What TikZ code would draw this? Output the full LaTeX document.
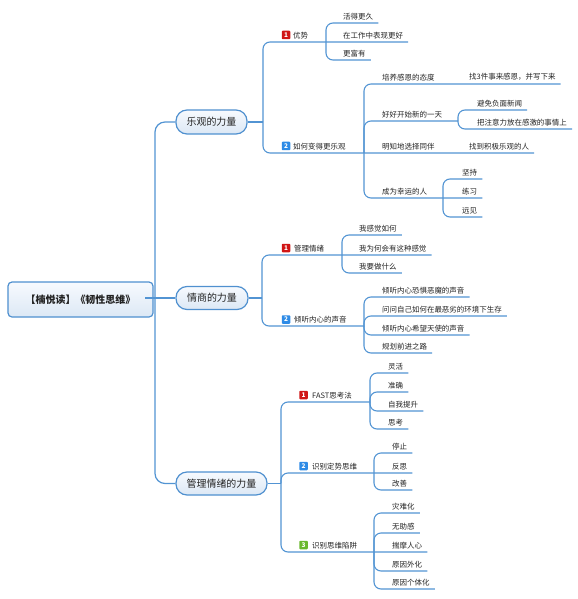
\documentclass[tikz,border=0pt]{standalone}
\usepackage{fontspec}
\setmainfont{Noto Sans CJK SC}
\definecolor{lnc}{HTML}{5294D3}
\definecolor{bdc}{HTML}{4F90CF}
\definecolor{ftop}{HTML}{F7FAFE}
\definecolor{fbot}{HTML}{DCE8F5}
\definecolor{bred}{HTML}{D01515}
\definecolor{bblue}{HTML}{2E8BE6}
\definecolor{bgreen}{HTML}{6AB82E}
\definecolor{txt}{HTML}{222222}
\tikzset{
 conn/.style={draw=lnc, line width=1.1bp, rounded corners=7bp},
 mainconn/.style={draw=lnc, line width=1.2bp, rounded corners=10bp},
 mainbox/.style={rectangle, rounded corners=11bp, draw=bdc, line width=1.2bp, top color=ftop, bottom color=fbot, font=\fontsize{10}{12}\selectfont, inner sep=0pt, text=txt},
 rootbox/.style={rectangle, rounded corners=4bp, draw=bdc, line width=1.2bp, top color=ftop, bottom color=fbot, font=\bfseries\fontsize{10}{12}\selectfont, minimum width=145bp, minimum height=35bp, inner sep=0pt, text=txt},
 leaf/.style={anchor=south west, inner xsep=0pt, inner ysep=3bp, font=\fontsize{7.5}{9}\selectfont, text=txt},
 badge/.style={rectangle, rounded corners=0.8bp, minimum size=8.5bp, inner sep=0pt, text=white, font=\bfseries\fontsize{6.5}{7}\selectfont},
}
\begin{document}
\begin{tikzpicture}[x=1bp,y=-1bp]
\useasboundingbox (0,0) rectangle (578,599);
% root and main topics
\node[rootbox] (root) at (80.5,299.5) {【楠悦读】《韧性思维》};
\coordinate (T) at (155,298);
\node[mainbox, minimum width=71bp, minimum height=24bp] (A) at (211.5,122) {乐观的力量};
\node[mainbox, minimum width=72bp, minimum height=23bp] (B) at (212,298) {情商的力量};
\node[mainbox, minimum width=91bp, minimum height=23bp] (C) at (221.5,483.5) {管理情绪的力量};
\draw[mainconn] (root.east |- T) -- (T) -- (B.west);
\draw[mainconn] (T) |- (A.west);
\draw[mainconn] (T) |- (C.west);
\coordinate (JA) at (263,122);
\coordinate (JB) at (262,298);
\coordinate (JC) at (281,483.5);
\draw[mainconn] (A.east) -- (JA);
\draw[mainconn] (B.east) -- (JB);
\draw[mainconn] (C.east) -- (JC);

% ---- A: 乐观的力量
\node[badge, fill=bred] (A1b) at (286,35) {1};
\node[leaf] (A1) at (293,42) {优势};
\coordinate (A1j) at (326,42);
\node[leaf] (A11) at (343,23) {活得更久};
\node[leaf] (A12) at (343,42) {在工作中表现更好};
\node[leaf] (A13) at (343,60) {更富有};
\draw[conn] (JA) |- (A1.south west) -- (A1j) -- ([xshift=5bp]A12.south east);
\draw[conn] (A1j) |- (A11.south west) -- ([xshift=5bp]A11.south east);
\draw[conn] (A1j) |- (A13.south west) -- ([xshift=5bp]A13.south east);

\node[badge, fill=bblue] (A2b) at (286,146) {2};
\node[leaf] (A2) at (293,153) {如何变得更乐观};
\coordinate (A2j) at (364,153);

\node[leaf] (A21) at (382,84) {培养感恩的态度};
\coordinate (A21j) at (452,84);
\node[leaf] (A22) at (382,121) {好好开始新的一天};
\coordinate (A22j) at (458,121);
\node[leaf] (A23) at (382,153) {明知地选择同伴};
\coordinate (A23j) at (452,153);
\node[leaf] (A24) at (382,198) {成为幸运的人};
\coordinate (A24j) at (443,198);
\node[leaf] (A211) at (469,84) {找3件事来感恩，并写下来};
\node[leaf] (A221) at (477,110) {避免负面新闻};
\node[leaf] (A222) at (477,129) {把注意力放在感激的事情上};
\node[leaf] (A231) at (469,153) {找到积极乐观的人};
\node[leaf] (A241) at (462,179) {坚持};
\node[leaf] (A242) at (462,198) {练习};
\node[leaf] (A243) at (462,217) {远见};

\draw[conn] (JA) |- (A2.south west) -- (A2j) -- (A23.south west) -- (A23j) -- ([xshift=5bp]A231.south east);
\draw[conn] (A2j) |- (A21.south west) -- (A21j) -- ([xshift=5bp]A211.south east);
\draw[conn] (A2j) |- (A22.south west) -- (A22j);
\draw[conn] (A2j) |- (A24.south west) -- (A24j) -- ([xshift=5bp]A242.south east);
\draw[conn] (A22j) |- (A221.south west) -- ([xshift=5bp]A221.south east);
\draw[conn] (A22j) |- (A222.south west) -- ([xshift=5bp]A222.south east);
\draw[conn] (A24j) |- (A241.south west) -- ([xshift=5bp]A241.south east);
\draw[conn] (A24j) |- (A243.south west) -- ([xshift=5bp]A243.south east);

% ---- B: 情商的力量
\node[badge, fill=bred] (B1b) at (286,248) {1};
\node[leaf] (B1) at (294,255) {管理情绪};
\coordinate (B1j) at (342,255);
\node[leaf] (B11) at (359,235) {我感觉如何};
\node[leaf] (B12) at (359,255) {我为何会有这种感觉};
\node[leaf] (B13) at (359,273) {我要做什么};
\draw[conn] (JB) |- (B1.south west) -- (B1j) -- ([xshift=5bp]B12.south east);
\draw[conn] (B1j) |- (B11.south west) -- ([xshift=5bp]B11.south east);
\draw[conn] (B1j) |- (B13.south west) -- ([xshift=5bp]B13.south east);

\node[badge, fill=bblue] (B2b) at (286,319.5) {2};
\node[leaf] (B2) at (294,326) {倾听内心的声音};
\coordinate (B2j) at (364,326);
\draw[conn] (JB) |- (B2.south west) -- (B2j);
\node[leaf] (B21) at (382,297) {倾听内心恐惧恶魔的声音};
\node[leaf] (B22) at (382,316) {问问自己如何在最恶劣的环境下生存};
\node[leaf] (B23) at (382,335) {倾听内心希望天使的声音};
\node[leaf] (B24) at (382,353) {规划前进之路};
\draw[conn] (B2j) |- (B21.south west) -- ([xshift=5bp]B21.south east);
\draw[conn] (B2j) |- (B22.south west) -- ([xshift=5bp]B22.south east);
\draw[conn] (B2j) |- (B23.south west) -- ([xshift=5bp]B23.south east);
\draw[conn] (B2j) |- (B24.south west) -- ([xshift=5bp]B24.south east);

% ---- C: 管理情绪的力量
\node[badge, fill=bred] (C1b) at (303.5,395) {1};
\node[leaf] (C1) at (312,402) {FAST思考法};
\coordinate (C1j) at (370,402);
\draw[conn] (JC) |- (C1.south west) -- (C1j);
\node[leaf] (C11) at (388,373) {灵活};
\node[leaf] (C12) at (388,392) {准确};
\node[leaf] (C13) at (388,411) {自我提升};
\node[leaf] (C14) at (388,429) {思考};
\draw[conn] (C1j) |- (C11.south west) -- ([xshift=5bp]C11.south east);
\draw[conn] (C1j) |- (C12.south west) -- ([xshift=5bp]C12.south east);
\draw[conn] (C1j) |- (C13.south west) -- ([xshift=5bp]C13.south east);
\draw[conn] (C1j) |- (C14.south west) -- ([xshift=5bp]C14.south east);

\node[badge, fill=bblue] (C2b) at (303.5,466) {2};
\node[leaf] (C2) at (312,473) {识别定势思维};
\coordinate (C2j) at (374,473);
\node[leaf] (C21) at (392,453) {停止};
\node[leaf] (C22) at (392,473) {反思};
\node[leaf] (C23) at (392,490) {改善};
\draw[conn] (JC) |- (C2.south west) -- (C2j) -- ([xshift=5bp]C22.south east);
\draw[conn] (C2j) |- (C21.south west) -- ([xshift=5bp]C21.south east);
\draw[conn] (C2j) |- (C23.south west) -- ([xshift=5bp]C23.south east);

\node[badge, fill=bgreen] (C3b) at (303.5,545) {3};
\node[leaf] (C3) at (312,552) {识别思维陷阱};
\coordinate (C3j) at (374,552);
\node[leaf] (C31) at (392,513) {灾难化};
\node[leaf] (C32) at (392,533) {无助感};
\node[leaf] (C33) at (392,552) {揣摩人心};
\node[leaf] (C34) at (392,571) {原因外化};
\node[leaf] (C35) at (392,589) {原因个体化};
\draw[conn] (JC) |- (C3.south west) -- (C3j) -- ([xshift=5bp]C33.south east);
\draw[conn] (C3j) |- (C31.south west) -- ([xshift=5bp]C31.south east);
\draw[conn] (C3j) |- (C32.south west) -- ([xshift=5bp]C32.south east);
\draw[conn] (C3j) |- (C34.south west) -- ([xshift=5bp]C34.south east);
\draw[conn] (C3j) |- (C35.south west) -- ([xshift=5bp]C35.south east);
\end{tikzpicture}
\end{document}
